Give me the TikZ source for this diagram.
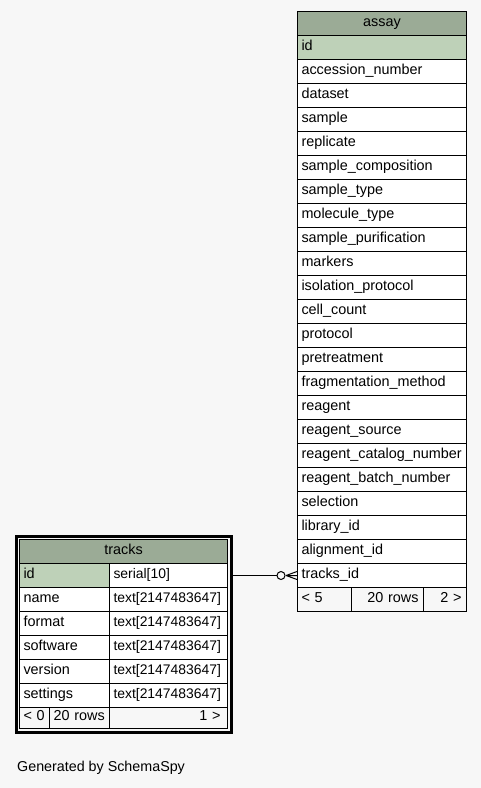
\documentclass[tikz,border=0pt]{standalone}
\usepackage{fontspec}
\setmainfont{Liberation Sans}
\usetikzlibrary{fit,calc}
\definecolor{pagebg}{HTML}{F7F7F7}
\definecolor{headbg}{HTML}{9BAB96}
\definecolor{keybg}{HTML}{BED1B8}
\newcommand{\cellfont}{\fontsize{14.4}{16}\selectfont}
\newcommand{\typefont}{\fontsize{13.9}{16}\selectfont}
\tikzset{
  cell/.style={draw=black, line width=1pt, inner xsep=4pt, inner ysep=0pt,
    minimum height=24pt, anchor=north west, fill=white,
    font=\cellfont, text height=10pt, text depth=5pt, align=left},
  typecell/.style={cell, font=\typefont},
  headcell/.style={cell, fill=headbg, align=center},
  keycell/.style={cell, fill=keybg},
  footcell/.style={cell, fill=pagebg},
  footright/.style={footcell, align=right, inner xsep=5pt},
}
\begin{document}
\begin{tikzpicture}[x=1pt, y=-1pt]
  \useasboundingbox[fill=pagebg] (0,0) rectangle (481,788);

  % ---- assay table ----
  \node[headcell, text width=161pt] (ah) at (297,11) {assay};
  \node[keycell, text width=161pt] (a0) at (297,35) {id};
  \foreach \name [count=\i] in {accession\_number, dataset, sample, replicate,
      sample\_composition, sample\_type, molecule\_type, sample\_purification,
      markers, isolation\_protocol, cell\_count, protocol, pretreatment,
      fragmentation\_method, reagent, reagent\_source, reagent\_catalog\_number,
      reagent\_batch\_number, selection, library\_id, alignment\_id, tracks\_id}
    \node[cell, text width=161pt] (a\i) at (297,35+24*\i) {\name};
  \node[footcell, text width=46pt] (af1) at (297,587) {< 5};
  \node[footright, text width=62pt] (af2) at (351,587) {20 rows};
  \node[footright, text width=33pt] (af3) at (423,587) {2 >};

  % ---- tracks table ----
  \node[headcell, text width=200pt] (th) at (19,539) {tracks};
  \node[keycell, text width=82pt] (tk1) at (19,563) {id};
  \node[typecell, text width=110pt] (tt1) at (109,563) {serial[10]};
  \foreach \name [count=\i from 2] in {name, format, software, version, settings} {
    \node[cell, text width=82pt] (tk\i) at (19,563+24*\i-24) {\name};
    \node[typecell, text width=110pt] (tt\i) at (109,563+24*\i-24) {text[2147483647]};
  }
  \node[footcell, text width=22pt, minimum height=21pt] (tf1) at (19,707) {< 0};
  \node[footcell, text width=52pt, minimum height=21pt] (tf2) at (49,707) {20 rows};
  \node[footright, text width=104pt, minimum height=21pt, inner xsep=7pt] (tf3) at (109,707) {1 >};
  \node[fit=(th)(tf3), inner sep=3pt, draw=black, line width=3pt] (tbox) {};

  % ---- relationship: tracks.id -> assay.tracks_id (zero or many) ----
  \coordinate (foot) at (a22.west);
  \coordinate (apex) at ($(foot)+(-11,0)$);
  \coordinate (ring) at ($(foot)+(-16,0)$);
  \draw[line width=1pt] (tbox.east |- foot) -- ($(ring)+(-4,0)$);
  \draw[line width=1pt] (apex) -- (foot)
    (apex) -- ($(foot)+(0,-4)$)
    (apex) -- ($(foot)+(0,4)$);
  \draw[line width=1pt, fill=pagebg] (ring) circle (4pt);

  % ---- footer caption ----
  \node[anchor=west, inner sep=0pt, font=\fontsize{14.3}{16}\selectfont] (gen) at (17,768) {Generated by SchemaSpy};
\end{tikzpicture}
\end{document}
